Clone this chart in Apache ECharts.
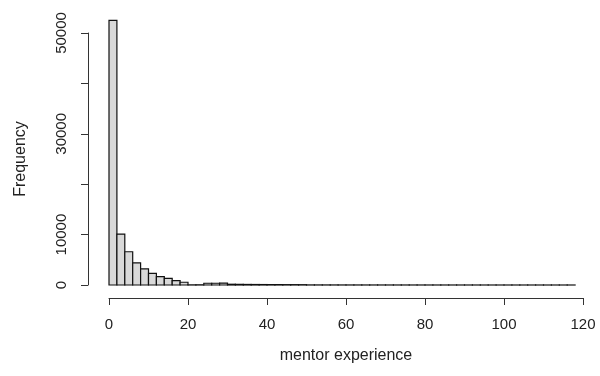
<!DOCTYPE html>
<html>
<head>
<meta charset="utf-8">
<script src="https://cdn.jsdelivr.net/npm/echarts@6/dist/echarts.min.js"></script>
<style>
  html, body { margin: 0; padding: 0; background: #fff; }
  #chart { width: 600px; height: 376px; }
</style>
</head>
<body>
<div id="chart"></div>
<script>
// histogram bins (width 2) of mentor experience
var binStart = [0, 2, 4, 6, 8, 10, 12, 14, 16, 18, 20, 22, 24, 26, 28, 30, 32, 34, 36, 38,
                40, 42, 44, 46, 48, 50, 52, 54, 56, 58, 60, 62, 64, 66, 68, 70, 72, 74, 76, 78,
                80, 82, 84, 86, 88, 90, 92, 94, 96, 98, 100, 102, 104, 106, 108, 110, 112, 114, 116];
var binEnd = [2, 4, 6, 8, 10, 12, 14, 16, 18, 20, 22, 24, 26, 28, 30, 32, 34, 36, 38, 40,
              42, 44, 46, 48, 50, 52, 54, 56, 58, 60, 62, 64, 66, 68, 70, 72, 74, 76, 78, 80,
              82, 84, 86, 88, 90, 92, 94, 96, 98, 100, 102, 104, 106, 108, 110, 112, 114, 116, 118];
var counts = [52500, 10100, 6600, 4400, 3200, 2300, 1650, 1300, 850, 550,
              30, 40, 350, 350, 380, 150, 130, 110, 100, 90,
              80, 80, 70, 70, 60, 20, 18, 16, 15, 14,
              12, 12, 10, 10, 9, 8, 8, 7, 7, 6,
              6, 5, 5, 5, 4, 4, 4, 3, 3, 3,
              3, 2, 2, 2, 2, 1, 1, 1, 1];
var xTicks = [0, 20, 40, 60, 80, 100, 120];
var yLabels = [0, 10000, 30000, 50000];

var data = [];
for (var i = 0; i < counts.length; i++) {
    data.push([binStart[i], binEnd[i], counts[i]]);
}

var textCol = '#222';
var font = 'Liberation Sans, Arial, sans-serif';

var myChart = echarts.init(document.getElementById('chart'));
var option = {
    animation: false,
    grid: { left: 109, top: 33, width: 474, height: 252 },
    xAxis: {
        type: 'value',
        min: 0, max: 120, interval: 20,
        offset: 13,
        name: 'mentor experience',
        nameLocation: 'middle',
        nameGap: 50,
        nameTextStyle: { color: textCol, fontSize: 16, fontFamily: font },
        splitLine: { show: false },
        axisLine: { show: true, onZero: false, lineStyle: { color: '#333', width: 1 } },
        axisTick: { show: true, length: 7, lineStyle: { color: '#333' } },
        axisLabel: { margin: 19, color: textCol, fontSize: 15, fontFamily: font,
                     formatter: function (v) { return xTicks.indexOf(v) >= 0 ? String(v) : ''; } }
    },
    yAxis: {
        type: 'value',
        min: 0, max: 50000, interval: 10000,
        offset: 21,
        name: 'Frequency',
        nameLocation: 'middle',
        nameGap: 59,
        nameRotate: 90,
        nameTextStyle: { color: textCol, fontSize: 16, fontFamily: font },
        splitLine: { show: false },
        axisLine: { show: true, onZero: false, lineStyle: { color: '#333', width: 1 } },
        axisTick: { show: true, length: 7, lineStyle: { color: '#333' } },
        axisLabel: { margin: 19, rotate: 90, color: textCol, fontSize: 15, fontFamily: font,
                     formatter: function (v) { return yLabels.indexOf(v) >= 0 ? String(v) : ''; } }
    },
    series: [{
        type: 'custom',
        clip: false,
        data: data,
        encode: { x: [0, 1], y: 2 },
        renderItem: function (params, api) {
            var p0 = api.coord([api.value(0), 0]);
            var p1 = api.coord([api.value(1), api.value(2)]);
            return {
                type: 'rect',
                shape: { x: p0[0], y: p1[1], width: p1[0] - p0[0], height: p0[1] - p1[1] },
                style: { fill: '#d9d9d9', stroke: '#111', lineWidth: 1.2 }
            };
        }
    }]
};
myChart.setOption(option);
</script>
</body>
</html>
